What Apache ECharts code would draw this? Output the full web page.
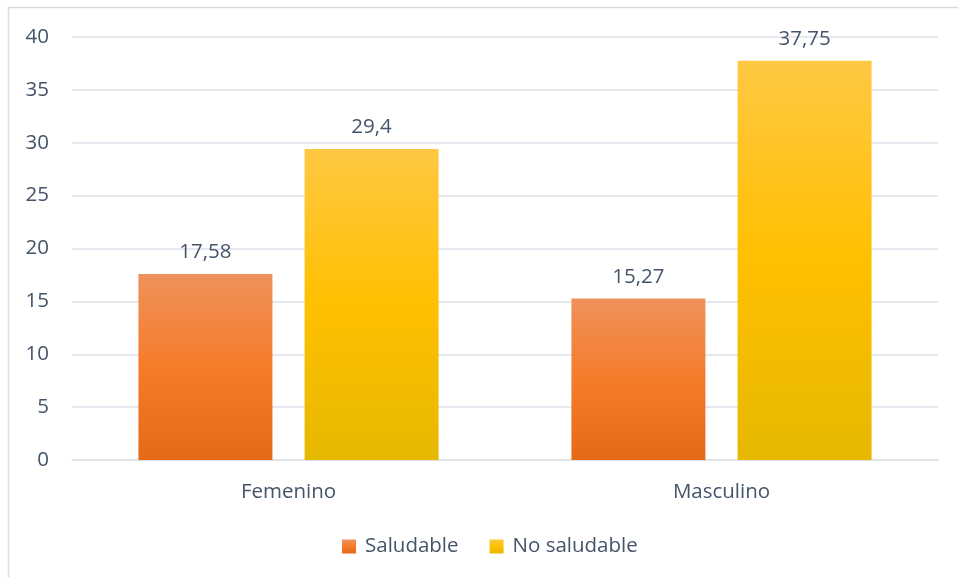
<!DOCTYPE html>
<html>
<head>
<meta charset="utf-8">
<script src="https://cdn.jsdelivr.net/npm/echarts@6/dist/echarts.min.js"></script>
<style>
html, body { margin: 0; padding: 0; background: #fff; }
#chart { width: 958px; height: 577px; }
</style>
</head>
<body>
<div id="chart"></div>
<script>
var categories = ['Femenino', 'Masculino'];
var saludable = [17.58, 15.27];
var noSaludable = [29.4, 37.75];
var yTicks = [0, 5, 10, 15, 20, 25, 30, 35, 40];

var textColor = '#44546a';
var fontFamily = '"Open Sans", Lato, sans-serif';
var fs = 20.5;

function grad(top, mid, bottom) {
    return new echarts.graphic.LinearGradient(0, 0, 0, 1, [
        {offset: 0, color: top},
        {offset: 0.5, color: mid},
        {offset: 1, color: bottom}
    ]);
}

function comma(p) {
    return String(p.value).replace('.', ',');
}

var chart = echarts.init(document.getElementById('chart'), null, {renderer: 'canvas'});
var option = {
    animation: false,
    textStyle: {fontFamily: fontFamily},
    graphic: [{
        type: 'rect',
        shape: {x: 8.5, y: 7.5, width: 1000, height: 1000},
        style: {fill: 'none', stroke: '#d9dde3', lineWidth: 1.5},
        silent: true
    }],
    grid: {left: 72, right: 20, top: 37, bottom: 117, containLabel: false},
    legend: {
        top: 531,
        left: 337,
        itemWidth: 14,
        itemHeight: 14,
        itemGap: 31,
        icon: 'rect',
        textStyle: {color: textColor, fontSize: fs, fontFamily: fontFamily, padding: [0, 0, 0, 4]},
        data: ['Saludable', 'No saludable']
    },
    xAxis: {
        type: 'category',
        data: categories,
        axisLine: {lineStyle: {color: '#dde1e8', width: 1.5}},
        axisTick: {show: false},
        axisLabel: {color: textColor, fontSize: fs, margin: 22, fontFamily: fontFamily}
    },
    yAxis: {
        type: 'value',
        min: yTicks[0],
        max: yTicks[yTicks.length - 1],
        interval: 5,
        axisLine: {show: false},
        axisTick: {show: false},
        splitLine: {lineStyle: {color: '#dde1e8', width: 1.5}},
        axisLabel: {color: textColor, fontSize: fs, margin: 23, fontFamily: fontFamily}
    },
    series: [
        {
            name: 'Saludable',
            type: 'bar',
            data: saludable,
            barWidth: 134,
            barGap: '24%',
            itemStyle: {color: grad('#f0915c', '#f47c2a', '#e56a17')},
            label: {
                show: true, position: 'top', distance: 11,
                color: textColor, fontSize: fs, fontFamily: fontFamily,
                formatter: comma
            }
        },
        {
            name: 'No saludable',
            type: 'bar',
            data: noSaludable,
            barWidth: 134,
            itemStyle: {color: grad('#ffc843', '#ffc000', '#e6b800')},
            label: {
                show: true, position: 'top', distance: 11,
                color: textColor, fontSize: fs, fontFamily: fontFamily,
                formatter: comma
            }
        }
    ]
};
chart.setOption(option);
</script>
</body>
</html>
